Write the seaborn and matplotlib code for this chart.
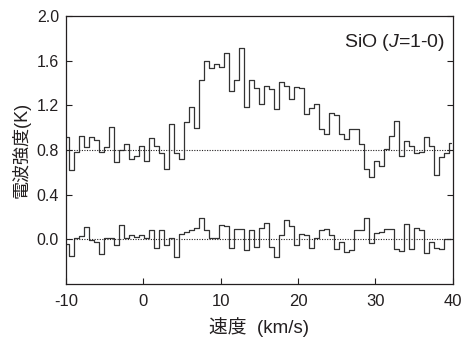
import numpy as np
import matplotlib
matplotlib.use("Agg")
import matplotlib.pyplot as plt
import seaborn as sns

# SiO (J=1-0) spectra, channel width ~0.646 km/s
velocity = np.arange(78) * 0.646 - 9.97

# upper spectrum (drawn with +0.8 K offset)
upper = [0.12, -0.18, -0.02, 0.13, 0.03, 0.115, 0.09, -0.02, 0.03, 0.21,
         -0.11, 0.00, 0.055, -0.08, -0.05, 0.035, -0.095, 0.11, 0.035, -0.025,
         -0.17, 0.235, -0.03, -0.08, 0.25, 0.39, 0.20, 0.625, 0.80, 0.735,
         0.77, 0.745, 0.87, 0.525, 0.625, 0.915, 0.39, 0.63, 0.555, 0.41,
         0.57, 0.55, 0.37, 0.61, 0.57, 0.46, 0.565, 0.555, 0.325, 0.38,
         0.415, 0.19, 0.145, 0.335, 0.31, 0.14, 0.10, 0.185, 0.185, 0.05,
         -0.17, -0.24, -0.10, -0.14, 0.01, 0.13, 0.26, -0.05, 0.08, 0.04,
         -0.025, -0.015, 0.12, 0.04, -0.22, -0.06, -0.025, 0.06]
upper_offset = 0.8

# lower spectrum
lower = [-0.04, -0.15, 0.015, 0.03, 0.11, -0.005, -0.025, -0.13, 0.01, 0.015,
         -0.05, 0.13, 0.01, 0.035, 0.025, 0.04, 0.01, 0.085, -0.08, 0.085,
         -0.055, 0.015, -0.155, 0.045, 0.07, 0.085, 0.105, 0.195, 0.08, 0.015,
         0.01, 0.13, 0.12, -0.08, 0.09, 0.09, -0.095, 0.08, -0.07, 0.10,
         0.15, -0.07, -0.16, 0.04, 0.17, 0.12, -0.05, 0.05, 0.04, -0.08,
         0.015, 0.085, 0.09, 0.04, -0.09, -0.02, -0.11, -0.095, 0.085, 0.08,
         0.19, -0.03, 0.06, 0.07, 0.09, 0.09, -0.09, -0.10, 0.14, -0.09,
         0.105, 0.085, -0.12, -0.02, -0.08, -0.09, 0.0, 0.0]

xticks = [-10, 0, 10, 20, 30, 40]
yticks = [0.0, 0.4, 0.8, 1.2, 1.6, 2.0]

sns.set_style("ticks")
plt.rcParams['font.family'] = ['Liberation Sans', 'Noto Sans CJK JP']
plt.rcParams['axes.unicode_minus'] = False
plt.rcParams['mathtext.fontset'] = 'custom'
plt.rcParams['mathtext.rm'] = 'Liberation Sans'
plt.rcParams['mathtext.it'] = 'Liberation Sans:italic'

ink = '#231f20'
fig = plt.figure(figsize=(4.63, 3.43), dpi=100)
ax = fig.add_axes([0.1425, 0.172, 0.8355, 0.781])

up = np.array(upper) + upper_offset
sns.lineplot(x=velocity, y=up, drawstyle='steps-mid', estimator=None,
             color='#333333', lw=0.9, ax=ax)
sns.lineplot(x=velocity, y=lower, drawstyle='steps-mid', estimator=None,
             color='#333333', lw=0.9, ax=ax)

ax.axhline(upper_offset, ls=(0, (1, 1.3)), lw=0.8, color=ink)
ax.axhline(0.0, ls=(0, (1, 1.3)), lw=0.8, color=ink)

ax.set_xlim(-10, 40)
ax.set_ylim(-0.4, 2.0)
ax.set_xticks(xticks)
ax.set_xticklabels([str(t) for t in xticks])
ax.set_yticks(yticks)
ax.set_yticklabels([f"{t:.1f}" for t in yticks])
ax.tick_params(axis='both', direction='in', length=4, width=0.8, colors=ink)
ax.tick_params(axis='x', labelsize=12, pad=7)
ax.tick_params(axis='y', labelsize=11.5, right=True, pad=5)
for s in ax.spines.values():
    s.set_visible(True)
    s.set_linewidth(0.9)
    s.set_color(ink)

ax.set_xlabel("速度  (km/s)", fontsize=13.5, color=ink, labelpad=6)
ax.set_ylabel("電波強度(K)", fontsize=13, color=ink, labelpad=4)
ax.text(0.98, 0.9, "SiO ($\\mathit{J}$=1-0)", transform=ax.transAxes,
        ha='right', va='center', fontsize=14, color=ink)

fig.savefig("out.png", dpi=100)
